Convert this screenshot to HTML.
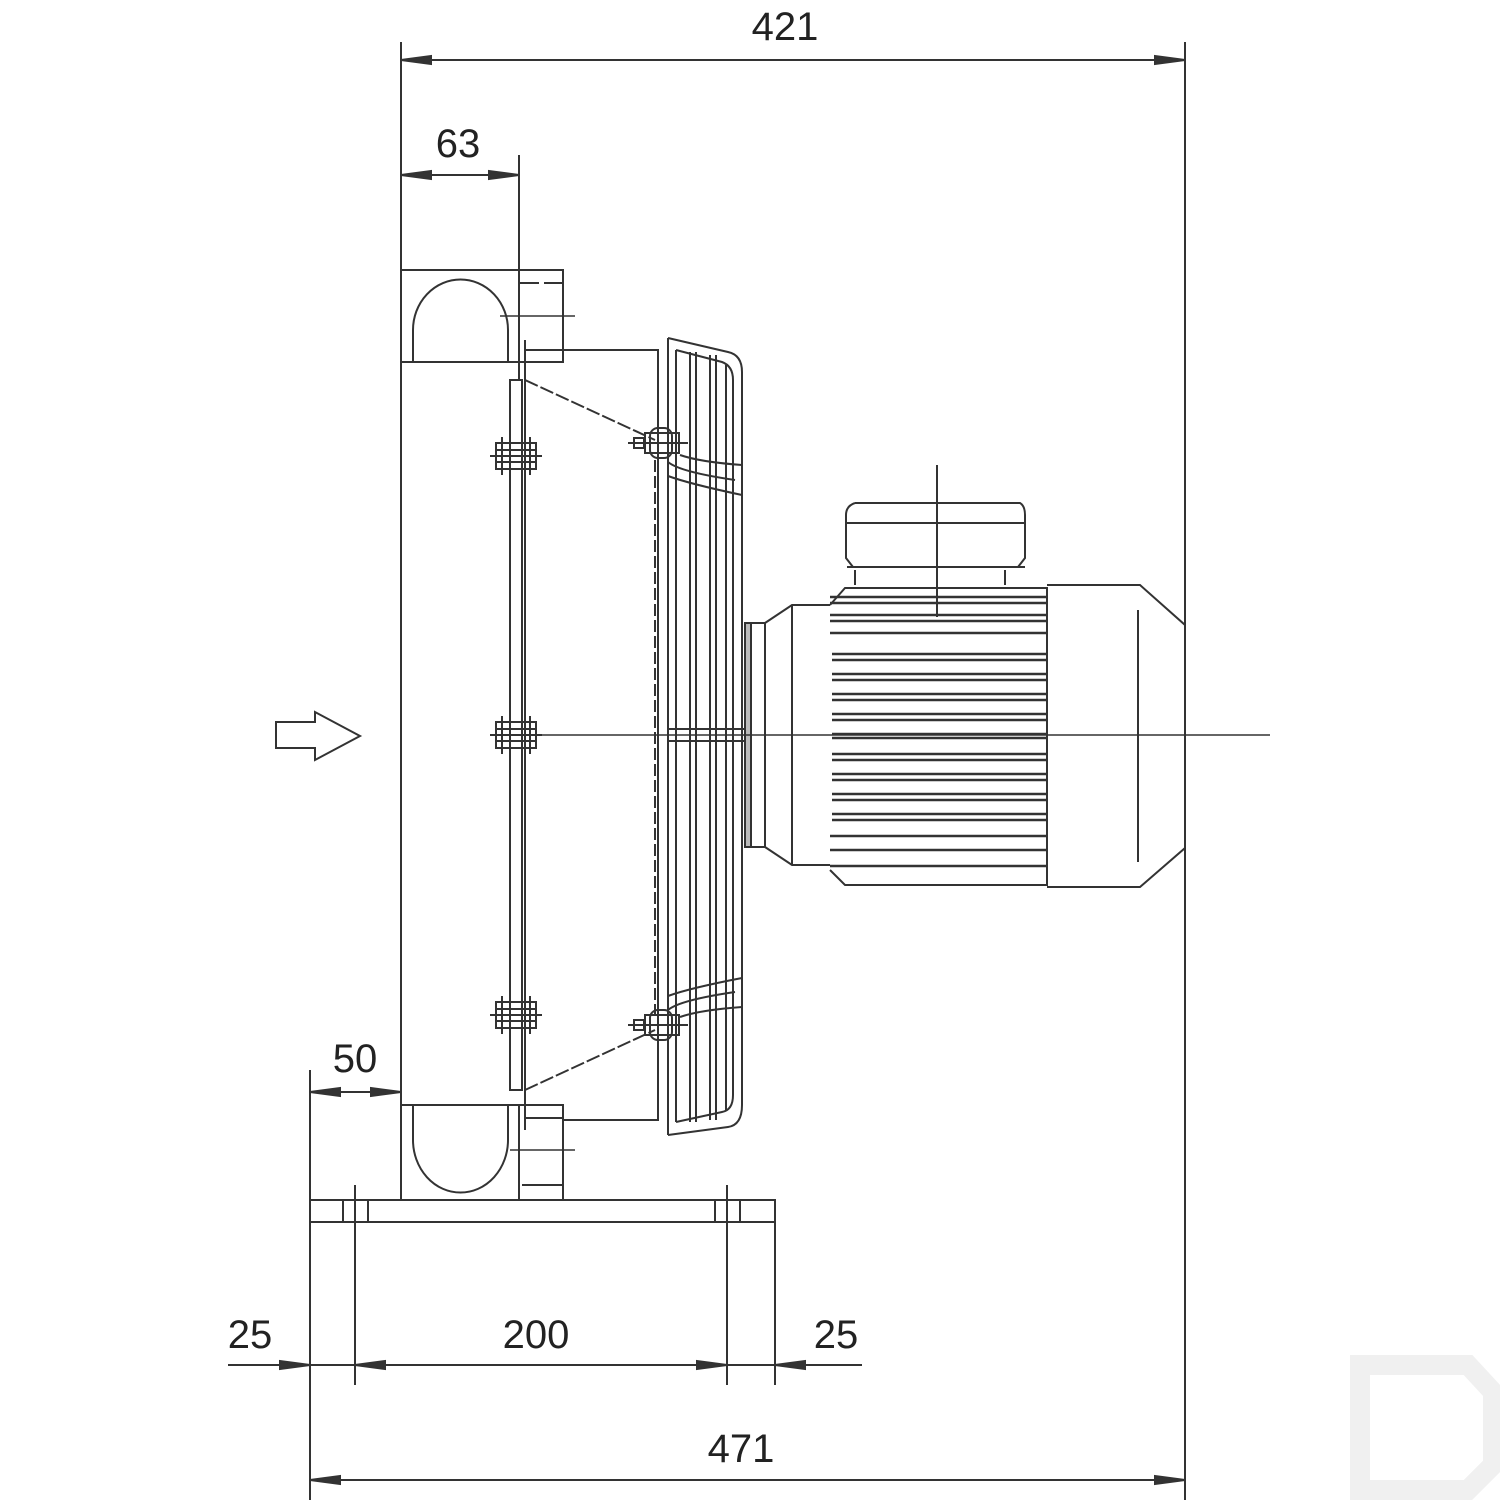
<!DOCTYPE html>
<html><head><meta charset="utf-8"><style>
html,body{margin:0;padding:0;background:#fff;width:1500px;height:1500px;overflow:hidden}
svg{display:block}
text{font-family:"Liberation Sans",sans-serif;font-size:40px;fill:#222;text-anchor:middle}
</style></head><body>
<svg width="1500" height="1500" viewBox="0 0 1500 1500" xmlns="http://www.w3.org/2000/svg">
<g stroke="#333" stroke-width="2" fill="none">
<line x1="401" y1="42" x2="401" y2="270"/>
<line x1="1185" y1="42" x2="1185" y2="1500"/>
<line x1="401" y1="60" x2="1185" y2="60"/>
<path d="M401,60 l30,-4 v8z M1185,60 l-30,-4 v8z" fill="#333"/>
<line x1="519" y1="155" x2="519" y2="380"/>
<line x1="401" y1="175" x2="519" y2="175"/>
<path d="M401,175 l30,-4 v8z M519,175 l-30,-4 v8z" fill="#333"/>
<line x1="310" y1="1070" x2="310" y2="1500"/>
<line x1="310" y1="1092" x2="401" y2="1092"/>
<path d="M310,1092 l30,-4 v8z M401,1092 l-30,-4 v8z" fill="#333"/>
<line x1="355" y1="1185" x2="355" y2="1385"/>
<line x1="727" y1="1185" x2="727" y2="1385"/>
<line x1="775" y1="1222" x2="775" y2="1385"/>
<line x1="228" y1="1365" x2="862" y2="1365"/>
<path d="M310,1365 l-30,-4 v8z M355,1365 l30,-4 v8z M727,1365 l-30,-4 v8z M775,1365 l30,-4 v8z" fill="#333"/>
<line x1="310" y1="1480" x2="1185" y2="1480"/>
<path d="M310,1480 l30,-4 v8z M1185,1480 l-30,-4 v8z" fill="#333"/>

<line x1="401" y1="270" x2="401" y2="1200"/>
<path d="M401,270 H563 V362 H401"/>
<path d="M413,362 V330 A47,50 0 0 1 508,330 V362"/>
<path d="M401,1105 H563 V1200"/>
<path d="M413,1105 V1140 A47,52 0 0 0 508,1140 V1105"/>
<line x1="519" y1="1105" x2="519" y2="1200"/>
<line x1="519" y1="283" x2="563" y2="283" stroke-dasharray="20 5"/>
<line x1="525" y1="350" x2="563" y2="350"/>
<line x1="500" y1="316" x2="575" y2="316" stroke-width="1.5"/>
<line x1="525" y1="1118" x2="563" y2="1118"/>
<line x1="510" y1="1150" x2="575" y2="1150" stroke-width="1.5"/>
<line x1="522" y1="1185" x2="563" y2="1185"/>
<rect x="510" y="380" width="12" height="710"/>
<line x1="525" y1="340" x2="525" y2="1130"/>
<g id="b"><rect x="496" y="443" width="40" height="26"/><line x1="490" y1="456" x2="542" y2="456"/><line x1="502" y1="437" x2="502" y2="475"/><line x1="530" y1="437" x2="530" y2="475"/><line x1="496" y1="450" x2="536" y2="450"/><line x1="496" y1="462" x2="536" y2="462"/></g>
<use href="#b" y="279"/>
<use href="#b" y="559"/>
<path d="M563,350 H658 V1120 H563"/>
<line x1="525" y1="380" x2="655" y2="440" stroke-dasharray="14 3"/>
<line x1="525" y1="1090" x2="655" y2="1030" stroke-dasharray="14 3"/>
<line x1="655" y1="460" x2="655" y2="1020" stroke-dasharray="12 4"/>
<path d="M668,338 L728,352 Q742,355 742,372 V1105 Q742,1125 728,1127 L668,1135"/>
<path d="M676,350 L722,362 Q733,366 733,380 V1095 Q733,1110 722,1112 L676,1122"/>
<line x1="668" y1="338" x2="668" y2="1135"/>
<line x1="676" y1="350" x2="676" y2="1122"/>
<line x1="690" y1="352" x2="690" y2="1122"/>
<line x1="696" y1="352" x2="696" y2="1122"/>
<line x1="710" y1="355" x2="710" y2="1120"/>
<line x1="716" y1="355" x2="716" y2="1120"/>
<line x1="726" y1="365" x2="726" y2="1110"/>
<path d="M668,462 Q680,472 735,480 M668,476 Q690,484 742,495 M680,455 Q700,462 742,465"/>
<path d="M668,1010 Q680,1000 735,992 M668,996 Q690,988 742,978 M680,1017 Q700,1010 742,1007"/>
<rect x="668" y="729" width="77" height="12"/>
<g id="g"><rect x="650" y="428" width="22" height="30" rx="8"/><rect x="645" y="433" width="34" height="20"/><line x1="628" y1="443" x2="688" y2="443"/><rect x="634" y="438" width="10" height="10"/></g>
<use href="#g" y="582"/>
<rect x="745" y="623" width="20" height="224"/>
<rect x="745" y="623" width="6" height="224" fill="#bbb"/>
<path d="M765,623 L792,605 H830 M765,847 L792,865 H830"/>
<line x1="792" y1="605" x2="792" y2="865"/>
<path d="M830,605 L845,588 H1047 V885 H845 L830,870"/>
<path d="M1047,585 H1140 L1185,625 V848 L1140,887 H1047"/>
<line x1="1138" y1="610" x2="1138" y2="862"/>
<path d="M847,567 H1025 M855,585 V570 M1005,585 V570"/>
<path d="M855,503 H1020 Q1025,506 1025,515 V558 L1018,567 M855,503 Q846,506 846,515 V558 L853,567"/>
<line x1="846" y1="523" x2="1025" y2="523"/>
<line x1="937" y1="465" x2="937" y2="617"/>
<line x1="490" y1="735" x2="1270" y2="735" stroke-width="1.5"/>
<g stroke-width="2.5">
<path d="M830,597 H1047 M830,603 H1047"/>
<path d="M830,615 H1047 M830,621 H1047"/>
<path d="M830,633 H1047"/>
<path d="M832,654 H1047 M832,660 H1047"/>
<path d="M832,674 H1047 M832,680 H1047"/>
<path d="M832,694 H1047 M832,700 H1047"/>
<path d="M832,714 H1047 M832,720 H1047"/>
<path d="M832,734 H1047 M832,738 H1047"/>
<path d="M832,754 H1047 M832,760 H1047"/>
<path d="M832,774 H1047 M832,780 H1047"/>
<path d="M832,794 H1047 M832,800 H1047"/>
<path d="M832,814 H1047 M832,820 H1047"/>
<path d="M830,836 H1047 M830,850 H1047 M830,866 H1047"/>
</g>
<rect x="310" y="1200" width="465" height="22"/>
<path d="M343,1200 V1222 M368,1200 V1222 M715,1200 V1222 M740,1200 V1222"/>
<path d="M276,722 H315 V712 L360,736 L315,760 V748 H276 Z"/>
</g>
<path d="M1360,1365 H1468 L1493,1392 V1465 L1468,1490 H1360 Z" fill="none" stroke="#f0f0f0" stroke-width="20"/>
<text x="785" y="40">421</text>
<text x="458" y="157">63</text>
<text x="355" y="1072">50</text>
<text x="250" y="1348">25</text>
<text x="536" y="1348">200</text>
<text x="836" y="1348">25</text>
<text x="741" y="1462">471</text>
</svg>
</body></html>
